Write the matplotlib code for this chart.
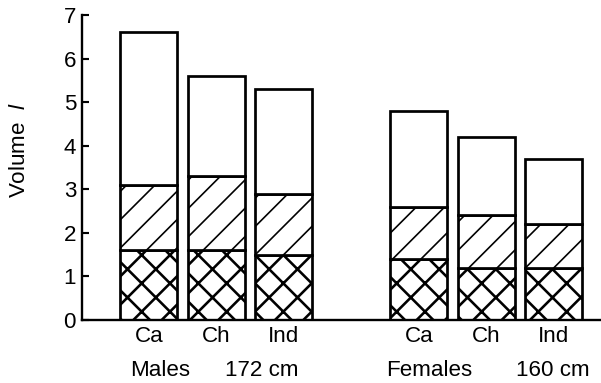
import matplotlib.pyplot as plt
import matplotlib.transforms as mtransforms
import numpy as np

plt.rcParams['font.family'] = ['Liberation Sans', 'DejaVu Sans']
plt.rcParams['mathtext.fontset'] = 'custom'
plt.rcParams['mathtext.it'] = 'Liberation Sans:italic'
plt.rcParams['hatch.linewidth'] = 1.4

categories = ['Ca', 'Ch', 'Ind', 'Ca', 'Ch', 'Ind']
group_names = ['Males', 'Females']
group_heights = ['172 cm', '160 cm']
# cumulative levels of each stacked segment (l)
lower = [1.6, 1.6, 1.5, 1.4, 1.2, 1.2]
middle = [3.1, 3.3, 2.9, 2.6, 2.4, 2.2]
total = [6.6, 5.6, 5.3, 4.8, 4.2, 3.7]

xpos = np.array([0, 1, 2, 4, 5, 6])
name_x = [0.17, 4.16]
height_x = [1.67, 5.98]

DPI = 85
fig = plt.figure(figsize=(601 / DPI, 383 / DPI), dpi=DPI)
ax = fig.add_axes([82 / 601, 1 - 320 / 383, 1 - 82 / 601, (320 - 15) / 383])

lo = np.array(lower)
mid = np.array(middle)
tot = np.array(total)
w = 0.85
kw = dict(width=w, color='white', edgecolor='black', linewidth=2.3, zorder=2)
cross = ax.bar(xpos, lo, hatch='x', **kw)
for p in cross:
    if hasattr(p, 'set_hatch_linewidth'):
        p.set_hatch_linewidth(2.2)
ax.bar(xpos, mid - lo, bottom=lo, hatch='/', **kw)
ax.bar(xpos, tot - mid, bottom=mid, **kw)

ax.set_xlim(-0.99, 6.70)
ax.set_ylim(0, 7)
ax.set_yticks(range(8))
ax.set_xticks(xpos, categories)

for s in ['top', 'right']:
    ax.spines[s].set_visible(False)
ax.spines['left'].set_linewidth(2.0)
ax.spines['bottom'].set_linewidth(2.0)
ax.spines['left'].set_bounds(0, 7)

ax.tick_params(axis='y', direction='in', length=6, width=1.8, labelsize=19, pad=5)
ax.tick_params(axis='x', length=0, labelsize=19, pad=5)

trans = mtransforms.blended_transform_factory(ax.transData, fig.transFigure)
for xn, xh, n, h in zip(name_x, height_x, group_names, group_heights):
    ax.text(xn, 1 - 370 / 383, n, transform=trans, ha='center', va='center', fontsize=19)
    ax.text(xh, 1 - 370 / 383, h, transform=trans, ha='center', va='center', fontsize=19)

fig.text(20 / 601, 1 - 150 / 383, r'Volume  $l$', rotation=90, ha='center', va='center', fontsize=19)

fig.savefig('out.png', dpi=DPI)
